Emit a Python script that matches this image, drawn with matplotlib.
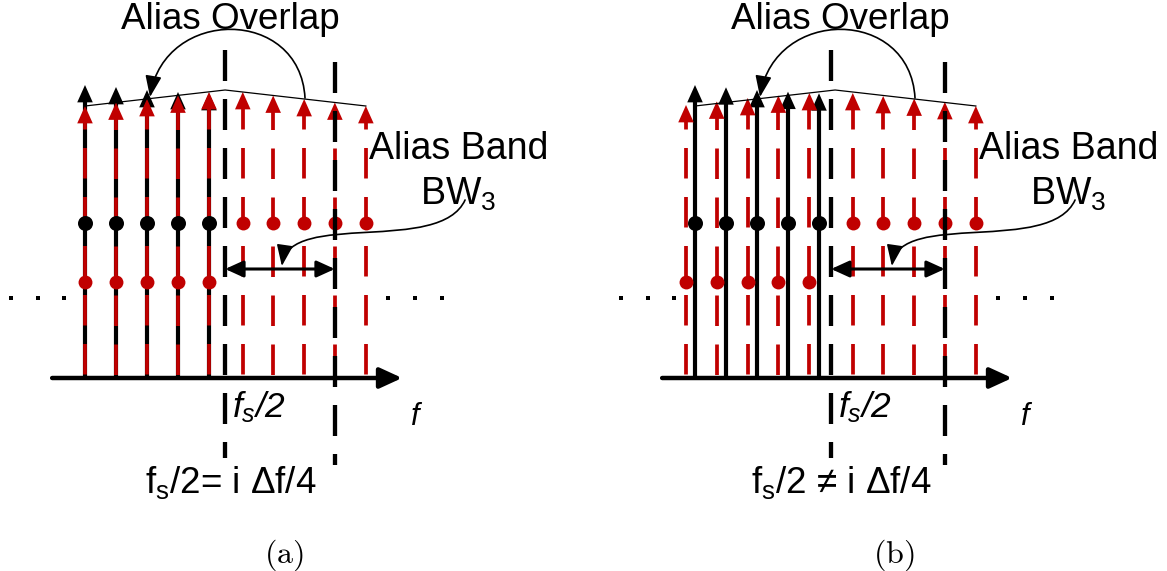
import matplotlib.pyplot as plt
from matplotlib.path import Path
from matplotlib.patches import FancyArrowPatch

plt.rcParams['font.family'] = ['Liberation Sans', 'DejaVu Sans']
plt.rcParams['mathtext.fontset'] = 'custom'
plt.rcParams['mathtext.rm'] = 'Liberation Sans'
plt.rcParams['mathtext.it'] = 'Liberation Sans:italic'
plt.rcParams['lines.scale_dashes'] = False

RED = '#c00000'

# line positions in units of the line spacing, heights in arbitrary units
# panel (a): fs/2 sits on the grid, aliases fall on the lines
a_black_f = [0, 1, 2, 3, 4]
a_black_amp = [293, 291, 288, 286, 285]
a_red_f = [0, 1, 2, 3, 4]
a_red_amp = [272, 275.5, 279, 282.5, 286]
a_alias_f = [5.09, 6.07, 7.07, 8.06, 9.06]
a_alias_amp = [286, 282.5, 279, 275.5, 272]
a_fs_half = 4.52

# panel (b): fs/2 off the grid, aliases land between the lines
b_black_f = [0, 1, 2, 3, 4]
b_black_amp = [293, 290.7, 288, 286.3, 284.7]
b_red_f = [-0.29, 0.70, 1.70, 2.69, 3.69]
b_red_amp = [273, 276.5, 280, 282.5, 285]
b_alias_f = [5.09, 6.07, 7.07, 8.06, 9.06]
b_alias_amp = [285, 282, 279.5, 276, 272]
b_fs_half = 4.39

band_edge = 8.06
env_f = [0, 4.52, 9.06]
env_amp = [272, 288, 272]
upper_level = 155
lower_level = 96
noise_level = 80
left_dots_f = [-2.39, -1.53, -0.67]
right_dots_f = [9.76, 10.65, 11.5]

PX = 0.72            # points per pixel
DASH = (30.5 * PX, 18.5 * PX)
PERIOD = 49.0


def stem(ax, f, amp, color, dashed, lw, z):
    y0 = amp - 12
    if dashed:
        ls = (((279 - y0) % PERIOD) * PX, DASH)
    else:
        ls = '-'
    ax.plot([f, f], [y0, 0], color=color, lw=lw, linestyle=ls,
            solid_capstyle='butt', zorder=z)
    ax.annotate('', xy=(f, amp), xytext=(f, amp - 16),
                arrowprops=dict(arrowstyle='-|>,head_length=12.5,head_width=5.6',
                                mutation_scale=1, lw=0, color=color,
                                shrinkA=0, shrinkB=0), zorder=z + 0.5)


def curve_arrow(ax, pts, lw, style):
    codes = [Path.MOVETO, Path.CURVE4, Path.CURVE4, Path.CURVE4]
    p = FancyArrowPatch(path=Path(pts, codes), arrowstyle=style,
                        mutation_scale=1, lw=lw, color='k', zorder=8)
    ax.add_patch(p)


def draw_panel(ax, black_f, black_amp, red_f, red_amp, alias_f, alias_amp,
               fs_half, relation, label):
    ax.set_xlim(-85 / 31, 472 / 31)
    ax.set_ylim(-193, 378)
    ax.axis('off')

    # frequency axis
    ax.annotate('', xy=(10.23, 0), xytext=(-1.06, 0),
                arrowprops=dict(arrowstyle='-|>,head_length=13.5,head_width=6.2',
                                mutation_scale=1, lw=3.2, color='k',
                                shrinkA=0, shrinkB=0))

    # noise floor dots
    ax.plot(left_dots_f + right_dots_f, [noise_level] * 6, ls='none',
            marker='s', ms=2.9, color='k', mew=0)

    # envelope
    ax.plot(env_f, env_amp, color='k', lw=0.9, zorder=6)

    for f, a in zip(black_f, black_amp):
        stem(ax, f, a, 'k', False, 3.0, 2)
    for f, a in zip(red_f, red_amp):
        stem(ax, f, a, RED, True, 2.7, 3)
    for f, a in zip(alias_f, alias_amp):
        stem(ax, f, a, RED, True, 2.7, 3)

    ax.plot(black_f, [upper_level] * len(black_f), ls='none', marker='o',
            ms=10.8, color='k', mew=0, zorder=7)
    ax.plot(red_f, [lower_level] * len(red_f), ls='none', marker='o',
            ms=10, color=RED, mew=0, zorder=7)
    ax.plot(alias_f, [upper_level] * len(alias_f), ls='none', marker='o',
            ms=10, color=RED, mew=0, zorder=7)

    # fs/2 and band edge
    ax.plot([fs_half, fs_half], [328, -80], color='k', lw=3.1,
            linestyle=(0, (31 * PX, 18 * PX)), zorder=7.5)
    ax.plot([band_edge, band_edge], [316, -87], color='k', lw=3.1,
            linestyle=(0, (31 * PX, 18 * PX)), zorder=7.5)

    # alias band arrow
    ax.annotate('', xy=(band_edge, 109), xytext=(fs_half, 109),
                arrowprops=dict(arrowstyle='<|-|>,head_length=11,head_width=5',
                                mutation_scale=1, lw=2.2, color='k',
                                shrinkA=0, shrinkB=0), zorder=8)

    curve_arrow(ax, [(7.097, 280), (6.935, 371), (2.58, 371), (2.097, 281)],
                1.2, '-|>,head_length=13,head_width=5')
    curve_arrow(ax, [(12.26, 178), (11.45, 123), (6.61, 168), (6.35, 112)],
                1.2, '-|>,head_length=13,head_width=5')

    ax.text(4.69, 349, 'Alias Overlap', ha='center', va='baseline', fontsize=26.5)
    ax.text(12.06, 219, 'Alias Band', ha='center', va='baseline', fontsize=27)
    ax.text(12.03, 173, r'$\mathrm{BW}_3$', ha='center', va='baseline', fontsize=27)
    ax.text(fs_half + 0.22, -39, r'$f_s$/2', style='italic', ha='left',
            va='baseline', fontsize=25.5)
    ax.text(10.65, -47, 'f', style='italic', ha='center', va='baseline',
            fontsize=22)
    ax.text(4.7, -115, relation, ha='center', va='baseline', fontsize=26.5)
    ax.text(6.4, -185, label, math_fontfamily='cm', ha='center',
            va='baseline', fontsize=23)


fig = plt.figure(figsize=(11.67, 5.71), dpi=100)
ax_a = fig.add_axes([0, 0, 557 / 1167, 1])
ax_b = fig.add_axes([610 / 1167, 0, 557 / 1167, 1])

draw_panel(ax_a, a_black_f, a_black_amp, a_red_f, a_red_amp, a_alias_f,
           a_alias_amp, a_fs_half, r'$\mathrm{f_s}$/2= i Δf/4',
           r'$\mathrm{(a)}$')
draw_panel(ax_b, b_black_f, b_black_amp, b_red_f, b_red_amp, b_alias_f,
           b_alias_amp, b_fs_half, r'$\mathrm{f_s}$/2 ≠ i Δf/4',
           r'$\mathrm{(b)}$')

fig.savefig('out.png', dpi=100)
